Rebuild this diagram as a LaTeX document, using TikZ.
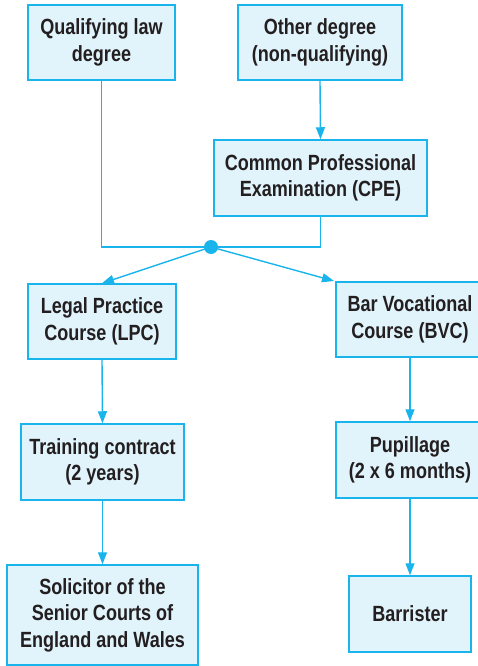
\documentclass[tikz,border=0pt]{standalone}
\usepackage{fontspec}
\setmainfont{Liberation Sans}[FakeStretch=0.82]
\usetikzlibrary{arrows.meta,calc}
\definecolor{bcyan}{HTML}{1AB4EC}
\definecolor{bfill}{HTML}{E1F3FB}
\definecolor{btext}{HTML}{231F20}
\tikzset{
  box/.style={draw=bcyan, line width=1.5pt, fill=bfill, align=center, inner sep=0pt,
    text=btext, font=\bfseries\fontsize{22}{26.5}\selectfont},
  conn/.style={draw=bcyan, line width=1.4pt},
  arr/.style={conn, -{Triangle[length=12pt,width=9pt]}}
}
\begin{document}
\begin{tikzpicture}[x=1pt,y=-1pt]
\useasboundingbox (0,0) rectangle (477,666);
\node[box, minimum width=147pt, minimum height=75pt] (qual) at (101.5,42.5) {Qualifying law\\degree};
\node[box, minimum width=164pt, minimum height=75pt] (other) at (320,42.5) {Other degree\\(non-qualifying)};
\node[box, minimum width=213pt, minimum height=76pt] (cpe) at (320.5,178) {Common Professional\\Examination (CPE)};
\node[box, minimum width=148pt, minimum height=75pt] (lpc) at (102,321.5) {Legal Practice\\Course (LPC)};
\node[box, minimum width=148pt, minimum height=75pt] (bvc) at (410,319.5) {Bar Vocational\\Course (BVC)};
\node[box, minimum width=163pt, minimum height=76pt] (train) at (102.5,462) {Training contract\\(2 years)};
\node[box, minimum width=148pt, minimum height=76pt] (pup) at (410,460) {Pupillage\\(2 x 6 months)};
\node[box, minimum width=122pt, minimum height=76pt] (barr) at (410,614) {Barrister};
\node[box, minimum width=191pt, minimum height=100pt] (sol) at (102.5,615) {Solicitor of the\\Senior Courts of\\England and Wales};
\coordinate (dot) at (211,247);
\coordinate (bvcin) at (334,281);
\draw[conn] (qual.south) -- (qual.south |- dot) -- (cpe.south |- dot) -- (cpe.south);
\fill[bcyan] (dot) circle (7pt);
\draw[arr] (other.south) -- (cpe.north);
\draw[arr] (dot) -- (lpc.north);
\draw[arr] (dot) -- (bvcin);
\draw[arr] (lpc.south) -- (train.north);
\draw[arr] (train.south) -- (sol.north);
\draw[arr] (bvc.south) -- (pup.north);
\draw[arr] (pup.south) -- (barr.north);
\end{tikzpicture}
\end{document}
